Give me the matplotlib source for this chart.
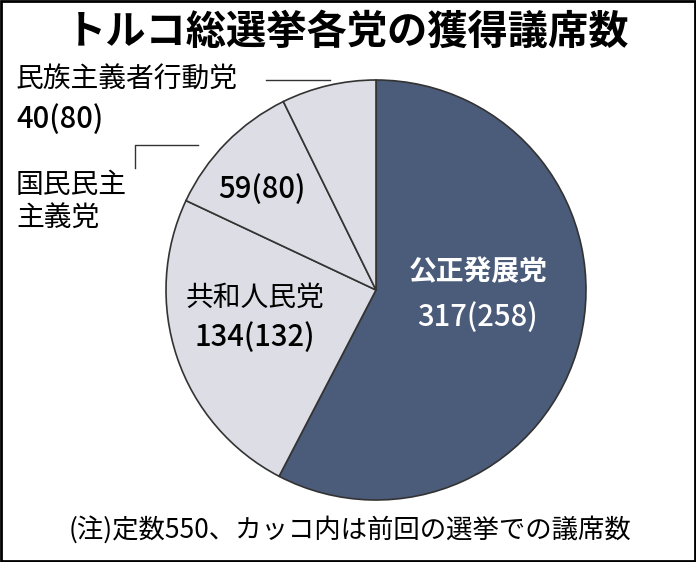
import matplotlib
matplotlib.use("Agg")
import matplotlib.pyplot as plt

plt.rcParams['font.family'] = ['Noto Sans CJK JP', 'DejaVu Sans']

parties = ["公正発展党", "共和人民党", "国民民主主義党", "民族主義者行動党"]
seats = [317, 134, 59, 40]
previous = [258, 132, 80, 80]
colors = ["#4b5b7a", "#dcdde5", "#dcdde5", "#dcdde5"]

W, H = 696, 562
fig = plt.figure(figsize=(W/100, H/100), dpi=100)
ax = fig.add_axes([0, 0, 1, 1])
ax.set_xlim(0, W); ax.set_ylim(0, H); ax.set_aspect('equal'); ax.axis('off')

ax.pie(seats, colors=colors, startangle=90, counterclock=False,
       center=(376, H-290), radius=210,
       wedgeprops=dict(edgecolor="#333333", linewidth=1.2))
ax.set_xlim(0, W); ax.set_ylim(0, H)

ax.add_patch(plt.Rectangle((1, 1), W-2, H-2, fill=False, edgecolor="black", lw=2))

ax.text(348, H-32, "トルコ総選挙各党の獲得議席数", ha='center', va='center',
        fontsize=29, fontweight='bold')

fs = 20
ax.text(478, H-272, parties[0], ha='center', va='center', fontsize=fs,
        fontweight='bold', color='white')
ax.text(478, H-318, f"{seats[0]}({previous[0]})", ha='center', va='center',
        fontsize=fs+1, fontweight='medium', color='white')
ax.text(255, H-298, parties[1], ha='center', va='center', fontsize=fs)
ax.text(255, H-338, f"{seats[1]}({previous[1]})", ha='center', va='center',
        fontsize=fs+1, fontweight='medium')
ax.text(262, H-190, f"{seats[2]}({previous[2]})", ha='center', va='center',
        fontsize=fs+1, fontweight='medium')

ax.text(16, H-80, parties[3], ha='left', va='center', fontsize=fs)
ax.text(16, H-120, f"{seats[3]}({previous[3]})", ha='left', va='center',
        fontsize=fs+1, fontweight='medium')
ax.plot([266, 330], [H-80, H-80], color='#333333', lw=1)

ax.text(16, H-185, "国民民主", ha='left', va='center', fontsize=fs)
ax.text(16, H-218, "主義党", ha='left', va='center', fontsize=fs)
ax.plot([135, 135, 198], [H-168, H-145, H-145], color='#333333', lw=1)

ax.text(350, H-530, "(注)定数550、カッコ内は前回の選挙での議席数", ha='center',
        va='center', fontsize=19)

fig.savefig("out.png", dpi=100)
